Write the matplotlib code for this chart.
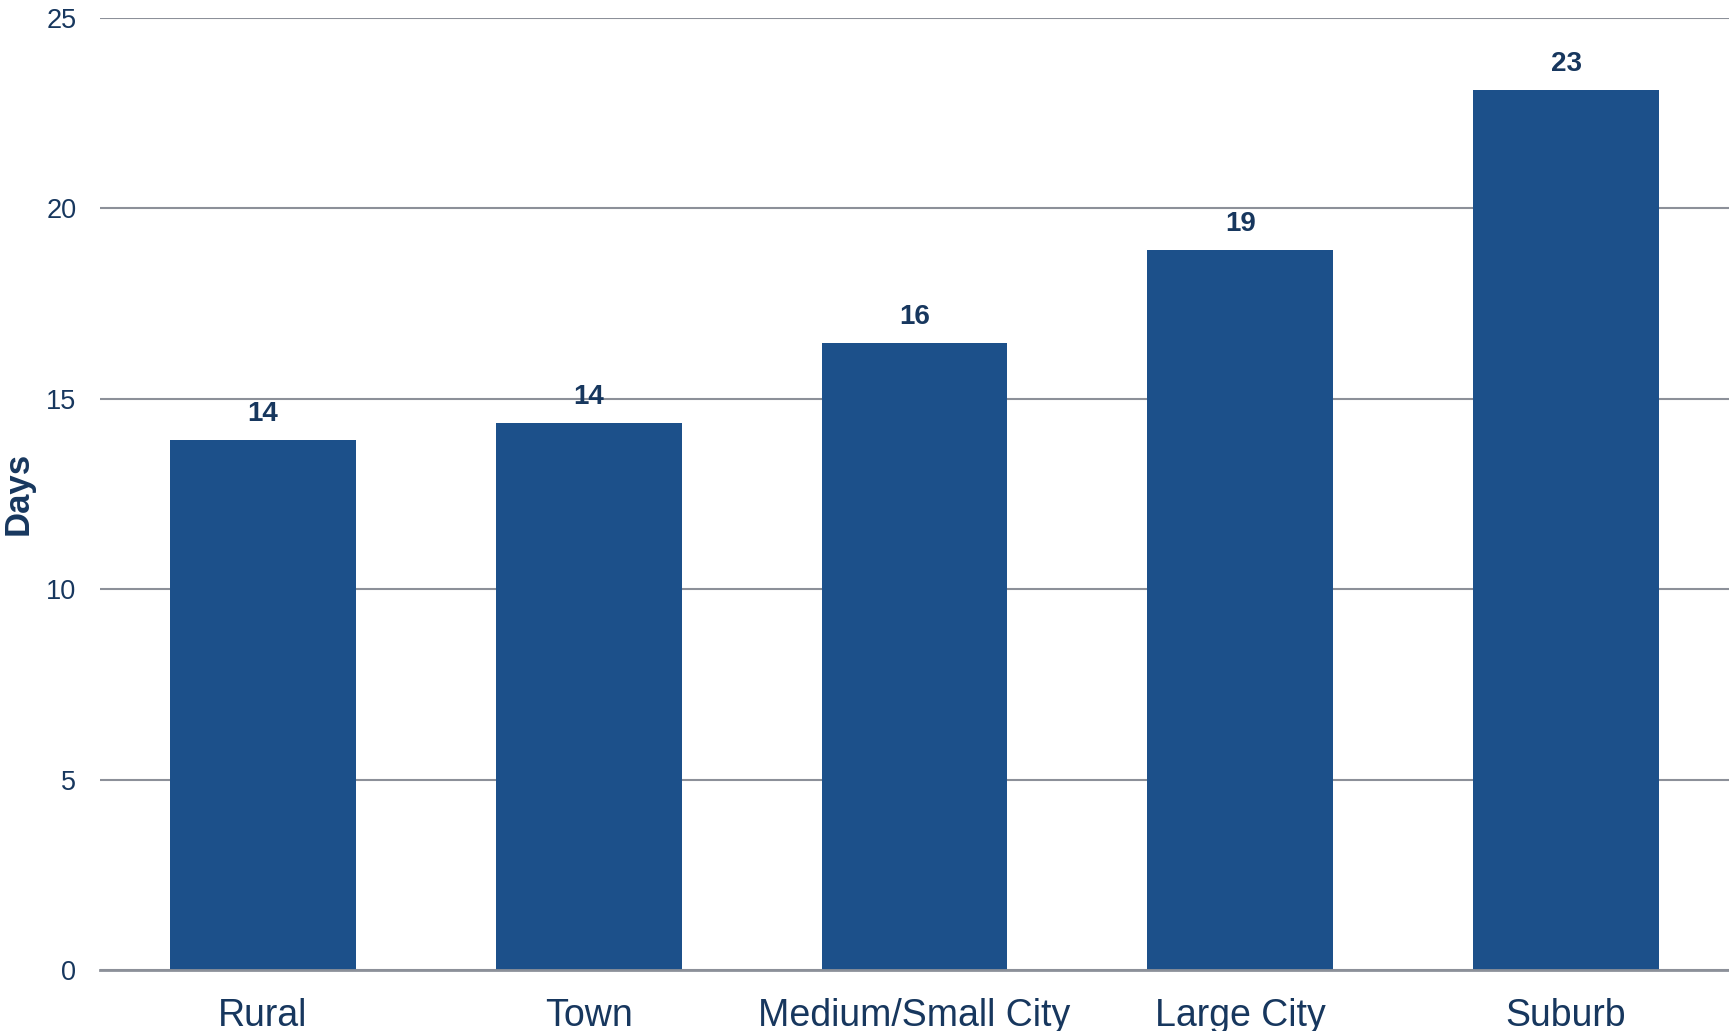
import matplotlib.pyplot as plt
import numpy as np

plt.rcParams['font.family'] = ['Liberation Sans', 'DejaVu Sans']

categories = ["Rural", "Town", "Medium/Small City", "Large City", "Suburb"]
days = [13.9, 14.35, 16.45, 18.9, 23.1]
labels = ["14", "14", "16", "19", "23"]
y_ticks = [0, 5, 10, 15, 20, 25]

bar_color = "#1c508a"
text_color = "#17375e"
grid_color = "#8c9099"

fig = plt.figure(figsize=(17.29, 10.31), dpi=100)
ax = fig.add_axes([100 / 1729, 1 - 970 / 1031, 1629 / 1729, (970 - 17.6) / 1031])

x = np.arange(len(categories))
bars = ax.bar(x, days, width=0.57, color=bar_color, zorder=3)
for rect, lab in zip(bars, labels):
    ax.annotate(lab, (rect.get_x() + rect.get_width() / 2, rect.get_height()),
                xytext=(0, 9.5), textcoords="offset points", ha="center", va="bottom",
                fontsize=20, fontweight="bold", color=text_color)

ax.set_xlim(-0.5, 4.5)
ax.set_ylim(0, 25)
ax.set_yticks(y_ticks)
ax.set_xticks(x)
ax.set_xticklabels(categories)
ax.tick_params(axis="y", length=0, pad=17, labelsize=19.5, labelcolor=text_color)
ax.tick_params(axis="x", length=0, pad=20, labelsize=27, labelcolor=text_color)
ax.yaxis.grid(True, color=grid_color, linewidth=1.5, zorder=0)
for side in ["top", "right", "left"]:
    ax.spines[side].set_visible(False)
ax.spines["bottom"].set_color(grid_color)
ax.spines["bottom"].set_linewidth(2)
ax.spines["bottom"].set_zorder(4)

ax.set_ylabel("Days", fontsize=25, fontweight="bold", color=text_color)
ax.yaxis.set_label_coords(-65 / 1629, 0.5)

plt.savefig("out.png", dpi=100)
